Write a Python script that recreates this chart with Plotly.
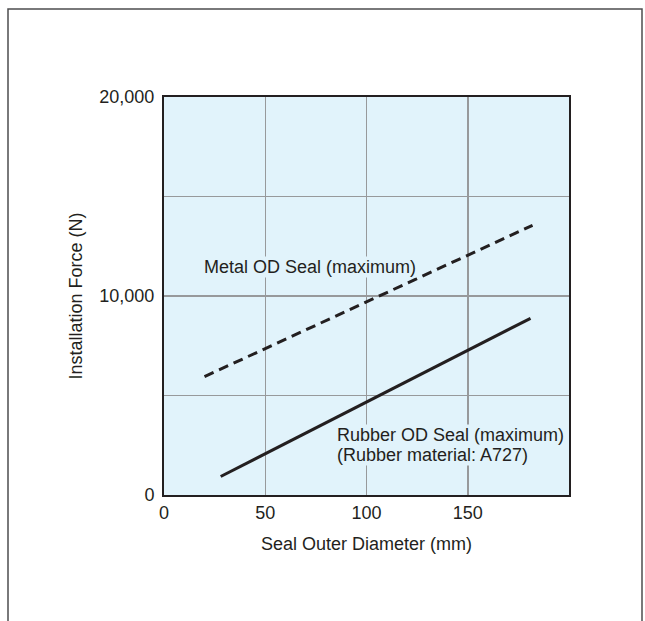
import plotly.graph_objects as go

# Data
metal_x = [20, 182]
metal_y = [5950, 13550]
rubber_x = [28, 181]
rubber_y = [930, 8880]
x_ticks = [0, 50, 100, 150]
y_ticks = [0, 10000, 20000]

FONT = "Liberation Sans, Arial, Helvetica, sans-serif"
TXT = "#231f20"
BG = "#e1f3fb"
GRID = "#97999b"
FS = 18

fig = go.Figure()
fig.add_trace(go.Scatter(x=metal_x, y=metal_y, mode="lines",
                         line=dict(color=TXT, width=3, dash="10px,6px"),
                         showlegend=False, hoverinfo="skip"))
fig.add_trace(go.Scatter(x=rubber_x, y=rubber_y, mode="lines",
                         line=dict(color=TXT, width=3),
                         showlegend=False, hoverinfo="skip"))

fig.add_annotation(x=19.5, y=11450, xref="x", yref="y", xanchor="left", yanchor="middle",
                   text="Metal OD Seal (maximum)", showarrow=False, bgcolor=BG,
                   font=dict(family=FONT, size=FS, color=TXT), borderpad=0)
fig.add_annotation(x=84.8, y=3000, xref="x", yref="y", xanchor="left", yanchor="middle",
                   text="Rubber OD Seal (maximum)", showarrow=False, bgcolor=BG,
                   font=dict(family=FONT, size=FS, color=TXT), borderpad=0)
fig.add_annotation(x=84.8, y=2030, xref="x", yref="y", xanchor="left", yanchor="middle",
                   text="(Rubber material: A727)", showarrow=False, bgcolor=BG,
                   font=dict(family=FONT, size=FS, color=TXT), borderpad=0)

W, H = 645, 621
L, T = 164, 97
pw, ph = 405, 398
R, B = W - L - pw, H - T - ph
# outer frame
fig.add_shape(type="rect", xref="paper", yref="paper",
              x0=(8 - L) / pw, x1=(642 - L) / pw,
              y0=-(660 - (H - B)) / ph, y1=((H - B) - 9) / ph,
              line=dict(color="#4d4d4f", width=1.5), layer="below")

fig.update_layout(
    width=W, height=H,
    margin=dict(l=L, r=R, t=T, b=B),
    paper_bgcolor="white", plot_bgcolor=BG,
    font=dict(family=FONT, size=FS, color=TXT),
    hovermode=False,
    xaxis=dict(range=[0, 200], tickvals=x_ticks, showgrid=True, gridcolor=GRID, gridwidth=1.5,
               showline=True, linecolor=TXT, linewidth=2, mirror=True, zeroline=False,
               ticks="", ticklen=0, ticklabelstandoff=0,
               title=dict(text="Seal Outer Diameter (mm)", standoff=16,
                          font=dict(family=FONT, size=FS, color=TXT))),
    yaxis=dict(range=[0, 20000], tickvals=y_ticks, tickformat=",d", showgrid=True,
               gridcolor=GRID, gridwidth=1.5,
               minor=dict(dtick=5000, showgrid=True, gridcolor=GRID, gridwidth=1.5, ticks=""),
               showline=True, linecolor=TXT, linewidth=2, mirror=True, zeroline=False,
               ticks="", ticklen=0, ticklabelstandoff=4,
               title=dict(text="Installation Force (N)", standoff=12,
                          font=dict(family=FONT, size=FS, color=TXT))),
)

fig.write_html("out.html",
               config={"displayModeBar": False, "staticPlot": True},
               post_script="document.body.style.margin='0';document.body.style.overflow='hidden';")
